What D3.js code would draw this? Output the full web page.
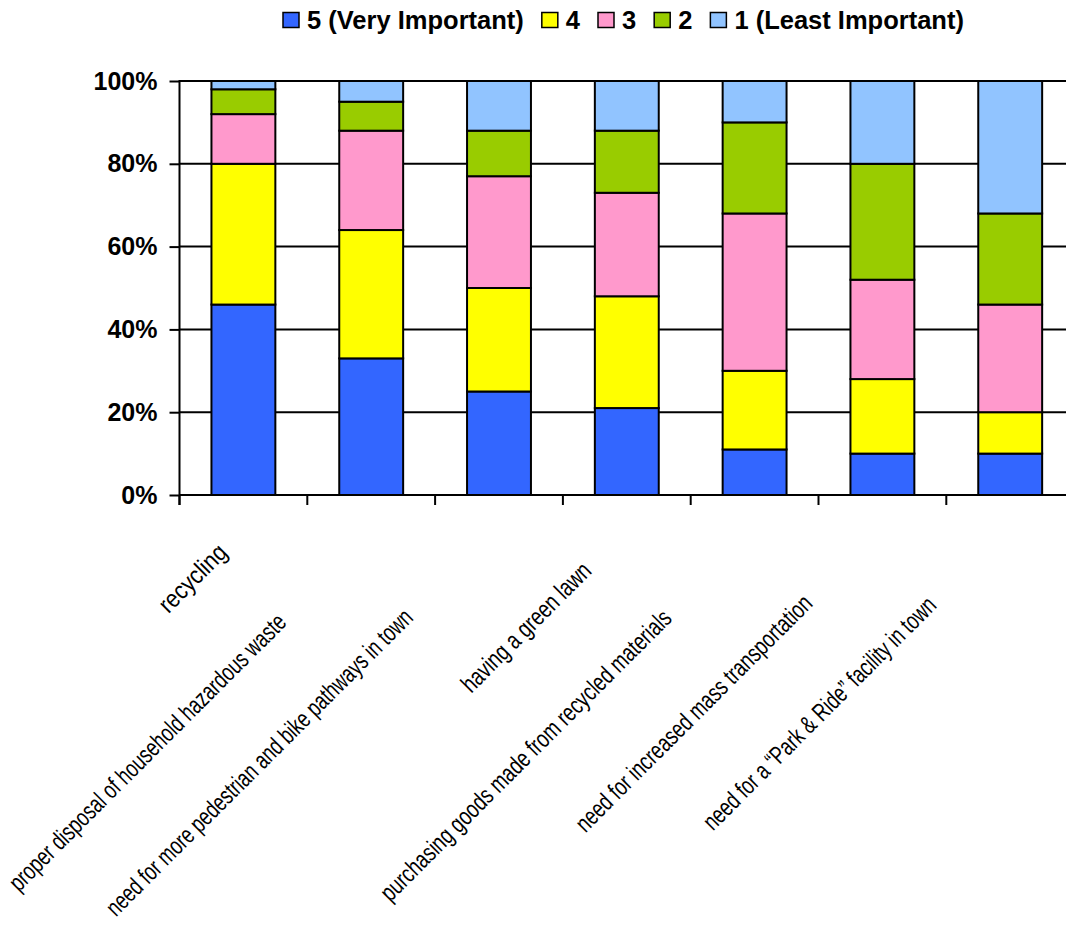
<!DOCTYPE html>
<html>
<head>
<meta charset="utf-8">
<script src="https://cdn.jsdelivr.net/npm/d3@7/dist/d3.min.js"></script>
<style>
  html, body { margin: 0; padding: 0; background: #fff; }
  svg { display: block; }
  text { font-family: "Liberation Sans", Arial, sans-serif; }
</style>
</head>
<body>
<svg id="chart" width="1066" height="927"></svg>
<script>
// ---------- data ----------
const categories = [
  "recycling",
  "proper disposal of household hazardous waste",
  "need for more pedestrian and bike pathways in town",
  "having a green lawn",
  "purchasing goods made from recycled materials",
  "need for increased mass transportation",
  "need for a \u201CPark & Ride\u201D facility in town"
];
const seriesNames = ["5 (Very Important)", "4", "3", "2", "1 (Least Important)"];
const s5 = [46, 33, 25, 21, 11, 10, 10];
const s4 = [34, 31, 25, 27, 19, 18, 10];
const s3 = [12, 24, 27, 25, 38, 24, 26];
const s2 = [6, 7, 11, 15, 22, 28, 22];
const s1 = [2, 5, 12, 12, 10, 20, 32];
const yTicks = [0, 0.2, 0.4, 0.6, 0.8, 1.0];

// ---------- layout / style (not data) ----------
const colors = ["#3366FF", "#FFFF00", "#FF99CC", "#99CC00", "#91C4FF"];
// label centre offsets from band centre (dx) and absolute y, plus drawn length
const labelLayout = [
  { dx: -51, y: 578, len: 85 },
  { dx: -224, y: 752, len: 380 },
  { dx: -240, y: 762, len: 422 },
  { dx: -101, y: 627, len: 172 },
  { dx: -229, y: 755, len: 400 },
  { dx: -189, y: 713, len: 323 },
  { dx: -191, y: 713, len: 318 }
];

const svg = d3.select("#chart");
const margin = { left: 179.5, top: 81, bottom: 495 };
const bandW = 127.8;
const x = d3.scaleBand().domain(categories).range([margin.left, margin.left + bandW * categories.length]).paddingInner(0.5).paddingOuter(0.25);
const y = d3.scaleLinear().domain([0, 1]).range([margin.bottom, margin.top]);

const rows = categories.map((c, i) => ({ cat: c, s5: s5[i], s4: s4[i], s3: s3[i], s2: s2[i], s1: s1[i] }));
const keys = ["s5", "s4", "s3", "s2", "s1"];
const stacked = d3.stack().keys(keys).offset(d3.stackOffsetExpand)(rows);

// gridlines
const xRight = margin.left + bandW * categories.length;
svg.append("g").selectAll("line").data(yTicks.filter(d => d > 0)).join("line")
  .attr("x1", margin.left).attr("x2", xRight)
  .attr("y1", d => y(d)).attr("y2", d => y(d))
  .attr("stroke", "#000").attr("stroke-width", 2);

// bars
svg.append("g").selectAll("g").data(stacked).join("g")
  .attr("fill", (d, i) => colors[i])
  .selectAll("rect").data(d => d).join("rect")
  .attr("x", d => x(d.data.cat))
  .attr("width", x.bandwidth())
  .attr("y", d => y(d[1]))
  .attr("height", d => y(d[0]) - y(d[1]))
  .attr("stroke", "#000").attr("stroke-width", 2);

// y axis
const yAxis = d3.axisLeft(y).tickValues(yTicks).tickFormat(d3.format(".0%")).tickSize(10).tickPadding(12);
const gy = svg.append("g").attr("transform", `translate(${margin.left},0)`).call(yAxis);
gy.select(".domain").remove();
gy.selectAll(".tick line").attr("stroke", "#000").attr("stroke-width", 2);
gy.selectAll(".tick text").attr("font-size", 25).attr("font-weight", "bold").attr("fill", "#000")
  .attr("font-family", "'Liberation Sans', Arial, sans-serif");
svg.append("line").attr("x1", margin.left).attr("x2", margin.left)
  .attr("y1", margin.top - 1).attr("y2", margin.bottom + 10)
  .attr("stroke", "#000").attr("stroke-width", 2);

// x axis
svg.append("line").attr("x1", margin.left).attr("x2", xRight)
  .attr("y1", margin.bottom).attr("y2", margin.bottom)
  .attr("stroke", "#000").attr("stroke-width", 2);
const boundaries = d3.range(categories.length + 1).map(i => margin.left + i * bandW);
svg.append("g").selectAll("line").data(boundaries).join("line")
  .attr("x1", d => d).attr("x2", d => d)
  .attr("y1", margin.bottom).attr("y2", margin.bottom + 10)
  .attr("stroke", "#000").attr("stroke-width", 2);

// x labels
svg.append("g").selectAll("text").data(categories).join("text")
  .attr("transform", (d, i) => {
    const cx = x(d) + x.bandwidth() / 2 + labelLayout[i].dx;
    return `translate(${cx},${labelLayout[i].y}) rotate(-45)`;
  })
  .attr("text-anchor", "middle")
  .attr("dy", "0.35em")
  .attr("font-size", 25)
  .attr("fill", "#000")
  .attr("textLength", (d, i) => labelLayout[i].len)
  .attr("lengthAdjust", "spacingAndGlyphs")
  .text(d => d);

// legend
const lg = svg.append("g");
let lx = 283;
seriesNames.forEach((name, i) => {
  lg.append("rect").attr("x", lx).attr("y", 12.5).attr("width", 16).attr("height", 15)
    .attr("fill", colors[i]).attr("stroke", "#000").attr("stroke-width", 1.5);
  const t = lg.append("text").attr("x", lx + 24).attr("y", 29)
    .attr("font-size", 25.5).attr("font-weight", "bold").attr("fill", "#000").text(name);
  const w = t.node().getComputedTextLength();
  lx = lx + 24 + w + 18;
});
</script>
</body>
</html>
